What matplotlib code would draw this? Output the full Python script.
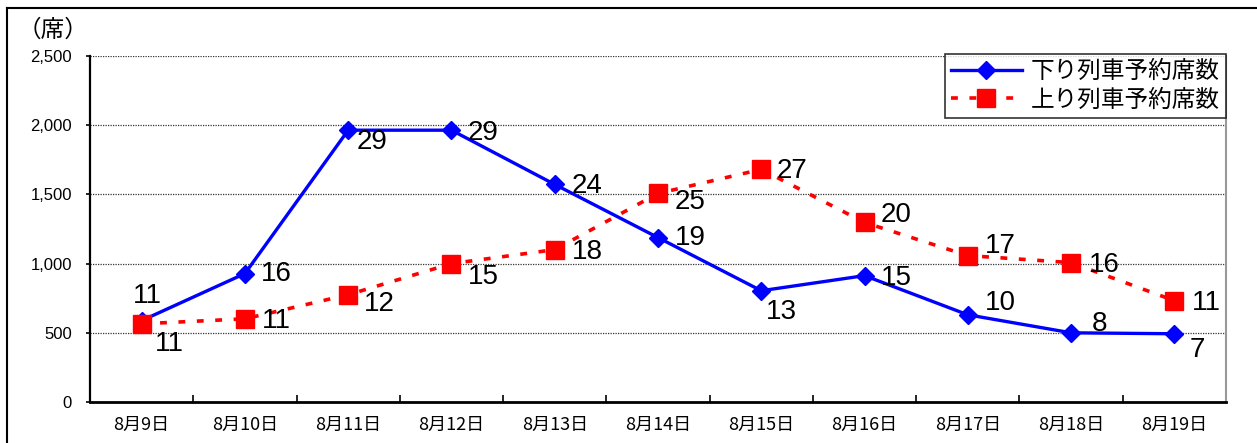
import matplotlib.pyplot as plt
from matplotlib.lines import Line2D
from matplotlib.ticker import FuncFormatter, FixedLocator

plt.rcParams['font.family'] = ['Liberation Sans', 'Noto Sans CJK JP', 'DejaVu Sans']

dates = ['8月9日', '8月10日', '8月11日', '8月12日', '8月13日', '8月14日',
         '8月15日', '8月16日', '8月17日', '8月18日', '8月19日']
down_seats = [588, 928, 1964, 1964, 1572, 1188, 804, 913, 630, 500, 493]
up_seats = [565, 601, 775, 1000, 1101, 1507, 1681, 1297, 1058, 1007, 732]
down_trains = [11, 16, 29, 29, 24, 19, 13, 15, 10, 8, 7]
up_trains = [11, 11, 12, 15, 18, 25, 27, 20, 17, 16, 11]

# label offsets (pixels, x right / y up)
down_off = [(6, 25), (31, 0), (24, -12), (32, -3), (32, -2), (32, 0),
            (20, -21), (32, -2), (33, 12), (28, 9), (23, -16)]
up_off = [(28, -20), (31, -2), (31, -9), (32, -13), (33, -2), (32, -9),
          (31, -2), (32, 7), (32, 10), (33, -2), (32, -2)]

fig = plt.figure(figsize=(12.57, 4.43), dpi=100)
ax = fig.add_axes([90 / 1257, 1 - 402 / 443, (1226 - 90) / 1257, (402 - 56) / 443])

x = list(range(len(dates)))
ax.plot(x, down_seats, color='#0000ff', lw=2.4, marker='D', ms=9,
        label='下り列車予約席数', zorder=3)
ax.plot(x, up_seats, color='#ff0000', lw=2.6, marker='s', ms=13,
        dashes=(1.9, 3.2), label='上り列車予約席数', zorder=4)

for i in x:
    ax.annotate(str(down_trains[i]), (i, down_seats[i]), xytext=down_off[i],
                textcoords='offset pixels', ha='center', va='center',
                fontsize=20, zorder=5)
    ax.annotate(str(up_trains[i]), (i, up_seats[i]), xytext=up_off[i],
                textcoords='offset pixels', ha='center', va='center',
                fontsize=20, zorder=5)

ax.set_xlim(-0.5, len(dates) - 0.5)
ax.set_ylim(0, 2500)
ax.set_yticks([0, 500, 1000, 1500, 2000, 2500])
ax.yaxis.set_major_formatter(FuncFormatter(lambda v, p: f'{int(v):,}'))
ax.set_xticks(x)
ax.set_xticklabels(dates, family=['Noto Sans CJK JP', 'DejaVu Sans'], fontsize=13)
ax.xaxis.set_minor_locator(FixedLocator([i + 0.5 for i in x[:-1]]))
ax.tick_params(axis='x', which='major', length=0, pad=10)
ax.tick_params(axis='x', which='minor', length=5, direction='in', width=1.2)
ax.tick_params(axis='y', length=3, width=1.2, pad=10, labelsize=12)

ax.grid(axis='y', linestyle=(0, (1, 1)), color='#333333', lw=0.9)
ax.set_axisbelow(True)
ax.spines['top'].set_visible(False)
ax.spines['left'].set_linewidth(1.6)
ax.spines['bottom'].set_linewidth(2)
ax.spines['right'].set_color('#999999')
ax.spines['right'].set_linewidth(1.5)

leg = ax.legend(loc='upper right', bbox_to_anchor=(1.0, 1.006), borderaxespad=0,
                prop={'family': ['Noto Sans CJK JP'], 'size': 17},
                frameon=True, fancybox=False, edgecolor='black',
                handlelength=3.0, handletextpad=0.4, labelspacing=0.25,
                borderpad=0.25)
leg.get_frame().set_linewidth(1.2)

fig.text(53 / 1257, 1 - 30 / 443, '（席）', ha='center', va='center',
         family=['Noto Sans CJK JP'], fontsize=17)

# outer frame
fig.add_artist(Line2D([7 / 1257, 7 / 1257], [0, 1 - 8 / 443], color='black', lw=1.5))
fig.add_artist(Line2D([7 / 1257, 1], [1 - 8 / 443, 1 - 8 / 443], color='black', lw=1.5))

fig.savefig('out.png', dpi=100)
